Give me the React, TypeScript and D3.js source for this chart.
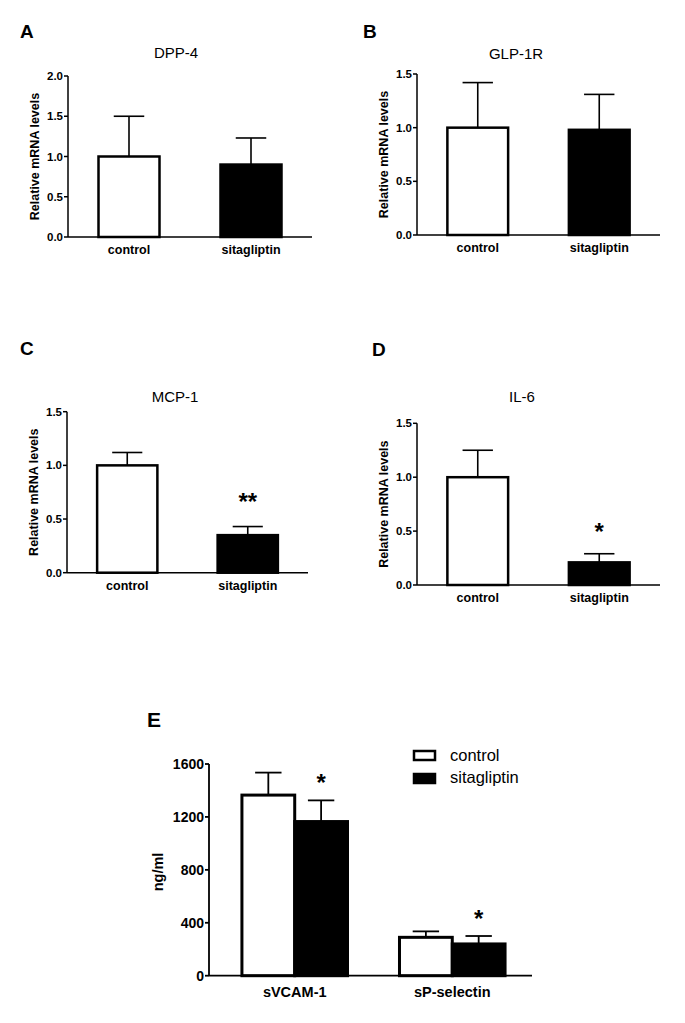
import React from "react";
import * as d3 from "d3";

// ---------- data ----------
const categories = ["control", "sitagliptin"];

const dppValues = [1.0, 0.9];
const dppErrors = [0.5, 0.33];
const glpValues = [1.0, 0.98];
const glpErrors = [0.42, 0.33];
const mcpValues = [1.0, 0.35];
const mcpErrors = [0.12, 0.08];
const il6Values = [1.0, 0.21];
const il6Errors = [0.25, 0.08];

const smallTicks2 = [0, 0.5, 1.0, 1.5, 2.0];
const smallTicks15 = [0, 0.5, 1.0, 1.5];

const mcpSig = ["", "**"];
const il6Sig = ["", "*"];
const noSig = ["", ""];

const groups = ["sVCAM-1", "sP-selectin"];
const seriesNames = ["control", "sitagliptin"];
const controlValues = [1365, 290];
const controlErrors = [170, 45];
const sitaValues = [1165, 240];
const sitaErrors = [160, 60];
const eTicks = [0, 400, 800, 1200, 1600];
const eSig = [["", "*"], ["", "*"]]; // per group, per series

// ---------- panels (data) ----------
const panels = [
  { letter: "A", title: "DPP-4", values: dppValues, errors: dppErrors, yMax: 2.0, ticks: smallTicks2, sig: noSig },
  { letter: "B", title: "GLP-1R", values: glpValues, errors: glpErrors, yMax: 1.5, ticks: smallTicks15, sig: noSig },
  { letter: "C", title: "MCP-1", values: mcpValues, errors: mcpErrors, yMax: 1.5, ticks: smallTicks15, sig: mcpSig },
  { letter: "D", title: "IL-6", values: il6Values, errors: il6Errors, yMax: 1.5, ticks: smallTicks15, sig: il6Sig },
];

// ---------- layout ----------
const layouts = [
  { lx: 20, ly: 38, tx: 176, ty: 58, x0: 68, x1: 312, yTop: 76, yBottom: 237, sigOff: 18 },
  { lx: 363, ly: 38, tx: 516, ty: 59, x0: 417, x1: 660, yTop: 74, yBottom: 235, sigOff: 18 },
  { lx: 20, ly: 355, tx: 175, ty: 402, x0: 67, x1: 308, yTop: 411.7, yBottom: 572.7, sigOff: 17 },
  { lx: 372, ly: 356, tx: 522, ty: 402, x0: 417, x1: 660, yTop: 423.3, yBottom: 585, sigOff: 13.5 },
];

const FONT = "'Liberation Sans', Arial, Helvetica, sans-serif";

function SmallPanel({ p, l }: { p: any; l: any }) {
  const x = d3.scaleBand<string>().domain(categories).range([l.x0, l.x1]).paddingInner(0.5).paddingOuter(0.25);
  const y = d3.scaleLinear().domain([0, p.yMax]).range([l.yBottom, l.yTop]);
  const fmt = d3.format(".1f");
  const bw = x.bandwidth();
  const cap = bw / 2;
  return (
    <g>
      <text x={l.lx} y={l.ly} fontFamily={FONT} fontWeight="bold" fontSize={19}>{p.letter}</text>
      <text x={l.tx} y={l.ty} fontFamily={FONT} fontSize={15} textAnchor="middle">{p.title}</text>
      {/* bars */}
      {categories.map((c, i) => {
        const bx = x(c)!;
        const cx = bx + bw / 2;
        const top = y(p.values[i]);
        const et = y(p.values[i] + p.errors[i]);
        return (
          <g key={c}>
            <line x1={cx} x2={cx} y1={top} y2={et} stroke="#000" strokeWidth={1.6} />
            <line x1={cx - cap / 2} x2={cx + cap / 2} y1={et} y2={et} stroke="#000" strokeWidth={1.6} />
            <rect x={bx} y={top} width={bw} height={l.yBottom - top} fill={i === 0 ? "#fff" : "#000"} stroke="#000" strokeWidth={2.5} />
            {p.sig[i] ? (
              <text x={cx} y={et - l.sigOff} fontFamily={FONT} fontWeight="bold" fontSize={24} textAnchor="middle">{p.sig[i]}</text>
            ) : null}
            <text x={cx} y={l.yBottom + 17} fontFamily={FONT} fontWeight="bold" fontSize={12.5} textAnchor="middle">{c}</text>
          </g>
        );
      })}
      {/* axes */}
      <line x1={l.x0} x2={l.x0} y1={l.yTop} y2={l.yBottom} stroke="#000" strokeWidth={1.5} />
      <line x1={l.x0} x2={l.x1} y1={l.yBottom} y2={l.yBottom} stroke="#000" strokeWidth={1.5} />
      {p.ticks.map((t: number) => (
        <g key={t}>
          <line x1={l.x0 - 4} x2={l.x0} y1={y(t)} y2={y(t)} stroke="#000" strokeWidth={1.5} />
          <text x={l.x0 - 5} y={y(t)} dy="0.35em" fontFamily={FONT} fontWeight="bold" fontSize={11.5} textAnchor="end">{fmt(t)}</text>
        </g>
      ))}
      <text
        transform={`translate(${l.x0 - 29},${(l.yTop + l.yBottom) / 2}) rotate(-90)`}
        fontFamily={FONT}
        fontWeight="bold"
        fontSize={12.5}
        textAnchor="middle"
      >
        Relative mRNA levels
      </text>
    </g>
  );
}

function PanelE() {
  const x0 = 209, x1 = 532, yTop = 764, yBottom = 975.7;
  const gx = d3.scaleBand<string>().domain(groups).range([x0, x1]).paddingInner(0.33).paddingOuter(0.19).align(0.55);
  const sx = d3.scaleBand<string>().domain(seriesNames).range([0, gx.bandwidth()]);
  const y = d3.scaleLinear().domain([0, 1600]).range([yBottom, yTop]);
  const vals = [controlValues, sitaValues];
  const errs = [controlErrors, sitaErrors];
  const bw = sx.bandwidth();
  const cap = bw / 2;
  return (
    <g>
      <text x={147} y={727} fontFamily={FONT} fontWeight="bold" fontSize={21}>E</text>
      {groups.map((g, gi) => (
        <g key={g}>
          {seriesNames.map((s, si) => {
            const bx = gx(g)! + sx(s)!;
            const cx = bx + bw / 2;
            const top = y(vals[si][gi]);
            const et = y(vals[si][gi] + errs[si][gi]);
            return (
              <g key={s}>
                <line x1={cx} x2={cx} y1={top} y2={et} stroke="#000" strokeWidth={1.8} />
                <line x1={cx - cap / 2} x2={cx + cap / 2} y1={et} y2={et} stroke="#000" strokeWidth={1.8} />
                <rect x={bx} y={top} width={bw} height={yBottom - top} fill={si === 0 ? "#fff" : "#000"} stroke="#000" strokeWidth={3} />
                {eSig[gi][si] ? (
                  <text x={cx} y={et - 9.5} fontFamily={FONT} fontWeight="bold" fontSize={24} textAnchor="middle">{eSig[gi][si]}</text>
                ) : null}
              </g>
            );
          })}
          <text x={gx(g)! + gx.bandwidth() / 2} y={yBottom + 21} fontFamily={FONT} fontWeight="bold" fontSize={14.5} textAnchor="middle">{g}</text>
        </g>
      ))}
      <line x1={x0} x2={x0} y1={yTop} y2={yBottom} stroke="#000" strokeWidth={1.8} />
      <line x1={x0} x2={x1} y1={yBottom} y2={yBottom} stroke="#000" strokeWidth={1.8} />
      {eTicks.map((t) => (
        <g key={t}>
          <line x1={x0 - 4} x2={x0} y1={y(t)} y2={y(t)} stroke="#000" strokeWidth={1.8} />
          <text x={x0 - 5} y={y(t)} dy="0.35em" fontFamily={FONT} fontWeight="bold" fontSize={14} textAnchor="end">{t}</text>
        </g>
      ))}
      <text transform={`translate(163,872) rotate(-90)`} fontFamily={FONT} fontWeight="bold" fontSize={14.5} textAnchor="middle">ng/ml</text>
      {/* legend */}
      {seriesNames.map((s, si) => (
        <g key={s}>
          <rect x={414} y={751 + si * 23} width={21} height={9} fill={si === 0 ? "#fff" : "#000"} stroke="#000" strokeWidth={2.5} />
          <text x={450} y={761 + si * 22} fontFamily={FONT} fontSize={16.5}>{s}</text>
        </g>
      ))}
    </g>
  );
}

export default function App() {
  return (
    <svg
      width={685}
      height={1023}
      viewBox="0 0 685 1023"
      style={{ position: "absolute", left: 0, top: 0, background: "#fff" }}
    >
      <rect x={0} y={0} width={685} height={1023} fill="#fff" />
      {panels.map((p, i) => (
        <SmallPanel key={p.letter} p={p} l={layouts[i]} />
      ))}
      <PanelE />
    </svg>
  );
}
